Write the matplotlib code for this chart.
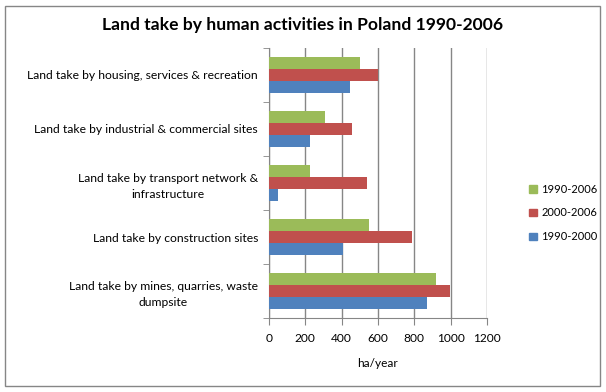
import matplotlib.pyplot as plt
import numpy as np
from matplotlib.patches import Patch, Rectangle

plt.rcParams['font.family'] = ['Lato', 'DejaVu Sans']

categories = [
    "Land take by mines, quarries, waste\ndumpsite",
    "Land take by construction sites",
    "Land take by transport network &\ninfrastructure",
    "Land take by industrial & commercial sites",
    "Land take by housing, services & recreation",
]
s_1990_2000 = [868, 405, 48, 224, 444]
s_2000_2006 = [994, 785, 538, 455, 600]
s_1990_2006 = [917, 549, 227, 310, 503]

xticks = [0, 200, 400, 600, 800, 1000, 1200]

blue = "#4F81BD"
red = "#C0504D"
green = "#9BBB59"
grey = "#868686"

fig = plt.figure(figsize=(6.06, 3.92), dpi=100)
fig.patches.append(Rectangle((5 / 606, 6 / 392), 595 / 606, 380 / 392,
                             transform=fig.transFigure, fill=False,
                             edgecolor=grey, linewidth=1))

ax = fig.add_axes([269 / 606, (392 - 318) / 392, 218 / 606, 270 / 392])

y = np.arange(len(categories))
h = 1 / 4.5
ax.barh(y - h, s_1990_2000, height=h, color=blue, label="1990-2000", zorder=3)
ax.barh(y, s_2000_2006, height=h, color=red, label="2000-2006", zorder=3)
ax.barh(y + h, s_1990_2006, height=h, color=green, label="1990-2006", zorder=3)

ax.set_xlim(0, 1200)
ax.set_ylim(-0.5, len(categories) - 0.5)
ax.set_xticks(xticks)
ax.set_xticklabels([str(t) for t in xticks], fontsize=8.6)
ax.set_yticks(y)
ax.set_yticklabels(categories, fontsize=8.7, ha="right",
                   multialignment="center", linespacing=1.6)
ax.set_yticks(np.arange(-0.5, len(categories), 1), minor=True)
ax.tick_params(axis="y", which="major", length=0, pad=8)
ax.tick_params(axis="y", which="minor", length=4, color=grey, direction="out")
ax.tick_params(axis="x", length=5, color=grey, direction="out", pad=6)

ax.grid(axis="x", color=grey, linewidth=1, zorder=0)
for side in ["top", "right"]:
    ax.spines[side].set_visible(False)
for side in ["left", "bottom"]:
    ax.spines[side].set_color(grey)

ax.set_xlabel("ha/year", fontsize=8.6, labelpad=10)

fig.text(303 / 606, 1 - 25 / 392, "Land take by human activities in Poland 1990-2006",
         ha="center", va="center", fontsize=12.6, fontweight="bold")

handles = [Patch(color=green), Patch(color=red), Patch(color=blue)]
fig.legend(handles, ["1990-2006", "2000-2006", "1990-2000"],
           loc="center left", bbox_to_anchor=(525 / 606, 1 - 213 / 392),
           frameon=False, fontsize=8, handlelength=0.65, handleheight=0.65,
           handletextpad=0.4, labelspacing=1.15, borderaxespad=0)

fig.savefig("out.png", dpi=100)
